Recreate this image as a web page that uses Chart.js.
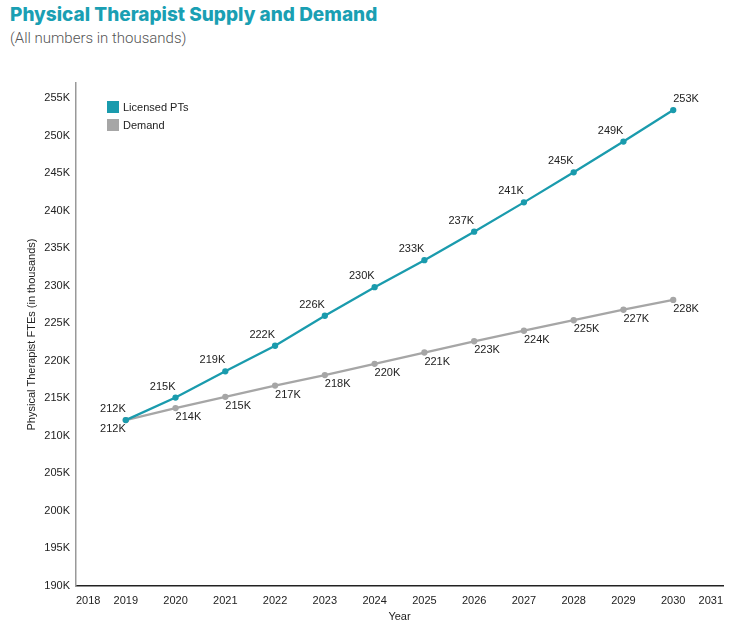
<!DOCTYPE html>
<html>
<head>
<meta charset="utf-8">
<script src="https://cdn.jsdelivr.net/npm/chart.js@4.4.1/dist/chart.umd.min.js"></script>
<style>
  html, body { margin: 0; padding: 0; background: #fff; }
  #wrap { position: relative; width: 754px; height: 644px; }
  #title {
    position: absolute; left: 10px; top: 3px;
    font-family: Inter, "Open Sans", sans-serif; font-weight: 800;
    font-size: 19px; color: #1a9fb3; white-space: nowrap;
  }
  #subtitle {
    position: absolute; left: 10px; top: 29px;
    font-family: Roboto, "Open Sans", sans-serif; font-weight: 300;
    font-size: 15px; color: #555; white-space: nowrap;
  }
  #legend {
    position: absolute; left: 107px; top: 101px;
    font-family: "Liberation Sans", Arial, sans-serif; font-size: 11px; color: #222;
  }
  .item { display: flex; align-items: center; height: 12px; margin-bottom: 6px; }
  .swatch { width: 12px; height: 12px; margin-right: 4px; }
  canvas { position: absolute; left: 0; top: 0; }
</style>
</head>
<body>
<div id="wrap">
  <div id="title">Physical Therapist Supply and Demand</div>
  <div id="subtitle">(All numbers in thousands)</div>
  <canvas id="ptChart" width="754" height="644"></canvas>
  <div id="legend"></div>
</div>
<script>
// values (thousands of FTEs)
const years = [2019, 2020, 2021, 2022, 2023, 2024, 2025, 2026, 2027, 2028, 2029, 2030];
const licensedPTs = [212.1, 215.1, 218.6, 222.0, 226.0, 229.8, 233.4, 237.2, 241.1, 245.1, 249.2, 253.4];
const demand = [212.1, 213.7, 215.2, 216.7, 218.1, 219.6, 221.1, 222.6, 224.0, 225.4, 226.8, 228.1];
const yTicks = [190, 195, 200, 205, 210, 215, 220, 225, 230, 235, 240, 245, 250, 255];
const seriesNames = ['Licensed PTs', 'Demand'];

const TEAL = '#1a9bad';
const GREY = '#a6a6a6';
const FONT = '"Liberation Sans", Arial, sans-serif';

// legend sits inside the plot, stacked, so it is plain html
const legendEl = document.getElementById('legend');
[[seriesNames[0], TEAL], [seriesNames[1], GREY]].forEach(([name, col]) => {
    const row = document.createElement('div');
    row.className = 'item';
    row.innerHTML = '<span class="swatch" style="background:' + col + '"></span>' + name;
    legendEl.appendChild(row);
});

// point labels: supply above/left, demand below/right
const pointLabels = {
    id: 'pointLabels',
    afterDatasetsDraw(chart) {
        const ctx = chart.ctx;
        ctx.save();
        ctx.font = '11px ' + FONT;
        ctx.fillStyle = '#222';
        ctx.textBaseline = 'middle';
        chart.data.datasets.forEach((ds, di) => {
            const meta = chart.getDatasetMeta(di);
            meta.data.forEach((pt, i) => {
                const txt = Math.round(ds.data[i].y) + 'K';
                const last = i === meta.data.length - 1;
                if (di === 0) {
                    ctx.textAlign = last ? 'left' : 'right';
                    ctx.fillText(txt, pt.x, pt.y - 11);
                } else {
                    ctx.textAlign = i === 0 ? 'right' : 'left';
                    ctx.fillText(txt, pt.x, pt.y + 9);
                }
            });
        });
        ctx.restore();
    }
};

new Chart(document.getElementById('ptChart'), {
    type: 'line',
    data: {
        datasets: [{
            label: seriesNames[0],
            data: years.map((yr, i) => ({ x: yr, y: licensedPTs[i] })),
            borderColor: TEAL,
            backgroundColor: TEAL,
            borderWidth: 2.3,
            pointRadius: 2,
            tension: 0
        }, {
            label: seriesNames[1],
            data: years.map((yr, i) => ({ x: yr, y: demand[i] })),
            borderColor: GREY,
            backgroundColor: GREY,
            borderWidth: 2.3,
            pointRadius: 2,
            tension: 0
        }]
    },
    options: {
        responsive: false,
        animation: false,
        layout: { padding: { top: 83, right: 31, left: 0, bottom: 0 } },
        plugins: {
            legend: { display: false },
            tooltip: { enabled: false }
        },
        scales: {
            x: {
                type: 'linear',
                min: 2018,
                max: 2031,
                grid: { display: false, drawTicks: false },
                border: { display: true, color: '#222', width: 1.5 },
                ticks: {
                    stepSize: 1,
                    align: 'inner',
                    padding: 8,
                    color: '#222',
                    font: { family: FONT, size: 11 },
                    callback: v => String(v)
                },
                title: {
                    display: true,
                    text: 'Year',
                    color: '#222',
                    font: { family: FONT, size: 11 },
                    padding: { top: 0, bottom: 20 }
                },
                afterFit: s => { s.height = 58; }
            },
            y: {
                min: 190,
                max: 257,
                grid: { display: false, drawTicks: false },
                border: { display: true, color: '#999', width: 1.5 },
                afterBuildTicks: s => { s.ticks = yTicks.map(v => ({ value: v })); },
                ticks: {
                    padding: 6,
                    color: '#222',
                    font: { family: FONT, size: 11 },
                    callback: v => v + 'K'
                },
                title: {
                    display: true,
                    text: 'Physical Therapist FTEs (in thousands)',
                    color: '#222',
                    font: { family: FONT, size: 11 },
                    padding: { top: 25, bottom: 0 }
                },
                afterFit: s => { s.width = 76; }
            }
        }
    },
    plugins: [pointLabels]
});
</script>
</body>
</html>
